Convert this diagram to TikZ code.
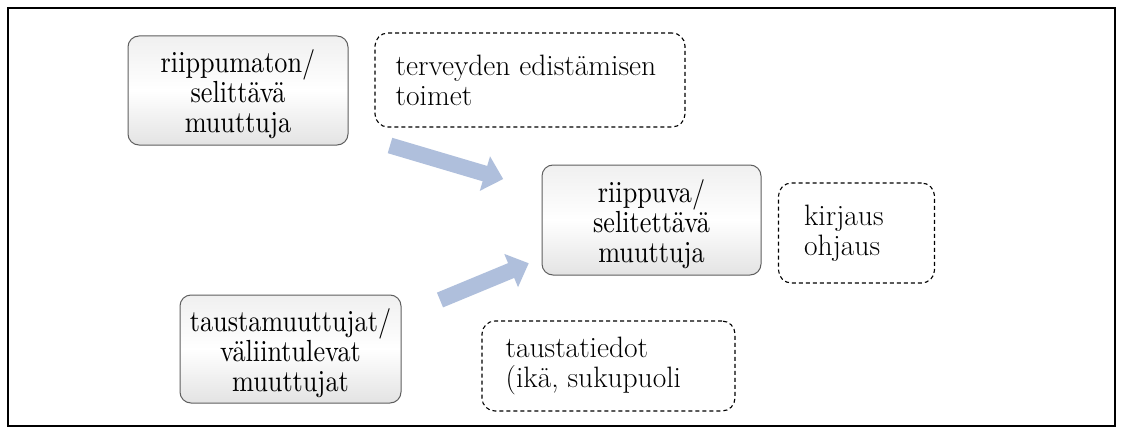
\documentclass[tikz,border=0pt]{standalone}
\usepackage{fontspec}
\newfontfamily\boxfont{lmroman10-regular.otf}[FakeStretch=0.86]
\usetikzlibrary{calc}
\definecolor{arrowblue}{RGB}{175,191,220}
\definecolor{boxedge}{RGB}{95,95,95}
\newcommand{\tophgt}{\rule{0pt}{31pt}}
\tikzset{
  mainbox/.style={rounded corners=11pt, draw=boxedge, line width=1pt,
    top color=gray!12, bottom color=gray!22, middle color=white,
    align=center, font=\boxfont\fontsize{30.5}{30}\selectfont, inner sep=0pt},
  dbox/.style={rounded corners=13pt, draw=black, line width=1.1pt,
    dash pattern=on 4pt off 3pt, inner sep=0pt},
  dtext/.style={align=left, font=\fontsize{29.5}{30}\selectfont, inner sep=0pt, anchor=west},
  arrowfill/.style={fill=arrowblue}
}
\begin{document}
\begin{tikzpicture}[x=1pt,y=1pt]
\useasboundingbox (0,0) rectangle (1121,432);
\fill[white] (0,0) rectangle (1121,432);
\draw[line width=1.5pt] (8,424) -- (8,6) -- (1115,6) -- (1115,424) -- cycle;

\node[mainbox, minimum width=220pt, minimum height=109pt] (A) at (238,341.5)
  {\tophgt riippumaton/\\selittävä\\muuttuja};
\node[mainbox, minimum width=219pt, minimum height=110pt] (B) at (651.5,212)
  {\tophgt riippuva/\\selitettävä\\muuttuja};
\node[mainbox, minimum width=221pt, minimum height=108pt] (C) at (290.5,83)
  {\tophgt taustamuuttujat/\\väliintulevat\\muuttujat};

\node[dbox, minimum width=310pt, minimum height=94pt] (T) at (530,352) {};
\node[dtext] (Tt) at ([xshift=21pt]T.west) {terveyden edistämisen\\toimet};
\node[dbox, minimum width=156pt, minimum height=100pt] (K) at (856.5,199) {};
\node[dtext] (Kt) at ([xshift=26pt]K.west) {kirjaus\\ohjaus};
\node[dbox, minimum width=253pt, minimum height=90pt] (S) at (608.5,66) {};
\node[dtext] (St) at ([xshift=24pt]S.west) {taustatiedot\\(ikä, sukupuoli};

\coordinate (a1) at (390,286.5);
\coordinate (a2) at (440,132);
\begin{scope}[shift={(a1)}, rotate=-16.5]
  \fill[arrowfill] (0,8) -- (99,8) -- (99,18) -- (118,0) -- (99,-18) -- (99,-8) -- (0,-8) -- cycle;
\end{scope}
\begin{scope}[shift={(a2)}, rotate=22.5]
  \fill[arrowfill] (0,8) -- (77,8) -- (77,18) -- (96,0) -- (77,-18) -- (77,-8) -- (0,-8) -- cycle;
\end{scope}
\end{tikzpicture}
\end{document}
